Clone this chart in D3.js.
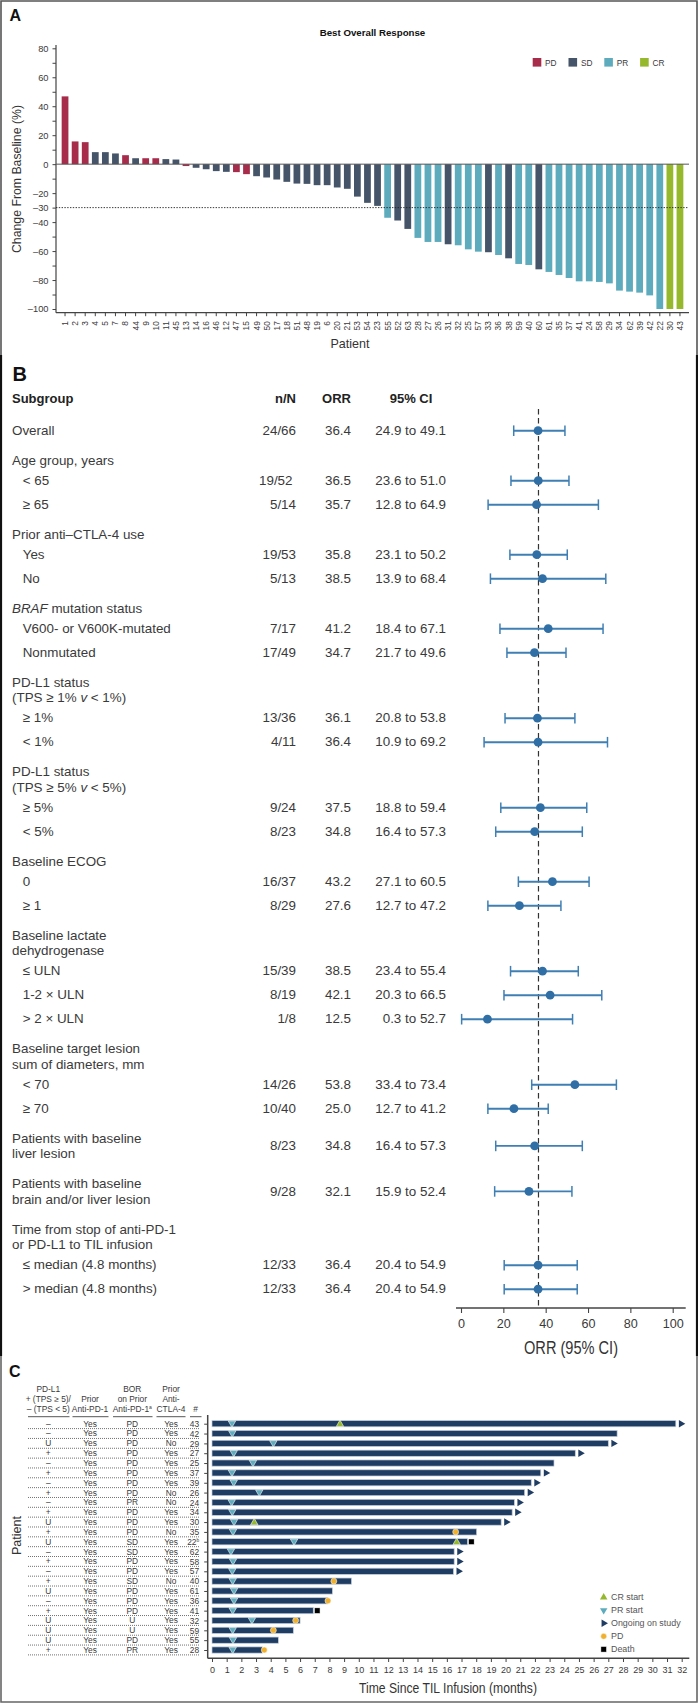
<!DOCTYPE html>
<html>
<head>
<meta charset="utf-8">
<script src="https://cdn.jsdelivr.net/npm/d3@7"></script>
<style>
  html, body { margin: 0; padding: 0; background: #fff; }
  svg { display: block; }
  text { font-family: "Liberation Sans", Arial, sans-serif; fill: #3a3a3a; }
  .axis path, .axis line { stroke: #444; }
</style>
</head>
<body>
<script>
// --- panel A data
const patients = ["1","2","3","4","5","7","8","44","9","10","11","45","13","14","16","46","12","47","15","49","50","17","18","51","48","19","6","20","21","53","54","23","55","52","63","28","27","26","31","32","25","57","33","36","38","59","40","60","61","35","37","41","24","58","29","34","62","39","42","22","30","43"];
const changes = [46.8,15.7,15.2,8.3,8.3,7.4,6.2,4.1,4.1,4.1,3.5,3.2,-1.3,-2.5,-3.5,-4.8,-5.3,-5.5,-6.9,-8.3,-9.2,-10.6,-12.2,-13.4,-13.6,-14.5,-14.5,-16.1,-17,-22.4,-26.7,-28.8,-37,-38.9,-44.7,-50.9,-53.7,-53.7,-55.3,-56,-58.8,-60.4,-60.8,-62.7,-65,-68.9,-69.6,-72.6,-74.4,-76.5,-78.6,-80.9,-80.9,-81.3,-82.3,-87.3,-88,-88.7,-90.6,-100,-100,-100];
const responses = ["PD","PD","PD","SD","SD","SD","PD","SD","PD","PD","SD","SD","PD","SD","SD","SD","SD","PD","PD","SD","SD","SD","SD","SD","SD","SD","SD","SD","SD","SD","SD","SD","PR","SD","SD","PR","PR","PR","SD","PR","PR","PR","SD","PR","SD","PR","PR","SD","PR","PR","PR","PR","PR","PR","PR","PR","PR","PR","PR","PR","CR","CR"];
const responseTypes = ["PD","SD","PR","CR"];
const responseColors = ["#a72b4a","#455468","#5dabbd","#95b82c"];
const yTicksA = [80,70,60,50,40,30,20,10,0,-10,-20,-30,-40,-50,-60,-70,-80,-90,-100];
const yLabelsA = [80,60,40,20,0,-20,-30,-40,-60,-80,-100];

// --- panel B data (_x_ is italic, \n is a second line)
const forestLabels = ["Overall","Age group, years","< 65","≥ 65","Prior anti–CTLA-4 use","Yes","No","_BRAF_ mutation status","V600- or V600K-mutated","Nonmutated","PD-L1 status\n(TPS ≥ 1% _v_ < 1%)","≥ 1%","< 1%","PD-L1 status\n(TPS ≥ 5% _v_ < 5%)","≥ 5%","< 5%","Baseline ECOG","0","≥ 1","Baseline lactate\ndehydrogenase","≤ ULN","1-2 × ULN","> 2 × ULN","Baseline target lesion\nsum of diameters, mm","< 70","≥ 70","Patients with baseline\nliver lesion","Patients with baseline\nbrain and/or liver lesion","Time from stop of anti-PD-1\nor PD-L1 to TIL infusion","≤ median (4.8 months)","> median (4.8 months)"];
const forestIsSub = [0,0,1,1,0,1,1,0,1,1,0,1,1,0,1,1,0,1,1,0,1,1,1,0,1,1,0,0,0,1,1];
const forestNN = ["24/66",null,"19/52","5/14",null,"19/53","5/13",null,"7/17","17/49",null,"13/36","4/11",null,"9/24","8/23",null,"16/37","8/29",null,"15/39","8/19","1/8",null,"14/26","10/40","8/23","9/28",null,"12/33","12/33"];
const forestORR = [36.4,null,36.5,35.7,null,35.8,38.5,null,41.2,34.7,null,36.1,36.4,null,37.5,34.8,null,43.2,27.6,null,38.5,42.1,12.5,null,53.8,25.0,34.8,32.1,null,36.4,36.4];
const forestLow = [24.9,null,23.6,12.8,null,23.1,13.9,null,18.4,21.7,null,20.8,10.9,null,18.8,16.4,null,27.1,12.7,null,23.4,20.3,0.3,null,33.4,12.7,16.4,15.9,null,20.4,20.4];
const forestHigh = [49.1,null,51.0,64.9,null,50.2,68.4,null,67.1,49.6,null,53.8,69.2,null,59.4,57.3,null,60.5,47.2,null,55.4,66.5,52.7,null,73.4,41.2,57.3,52.4,null,54.9,54.9];
const forestTicks = [0,20,40,60,80,100];
const forestRef = 36.6;

// --- panel C data
const swimIds = ["43","42","29","27","25","37","39","26","24","34","30","35","22","62","58","57","40","61","36","41","32","59","55","28"];
const swimPdl1 = ["–","–","U","+","–","+","–","+","–","+","U","+","U","–","+","–","+","U","–","+","U","U","U","+"];
const swimPriorPd1 = ["Yes","Yes","Yes","Yes","Yes","Yes","Yes","Yes","Yes","Yes","Yes","Yes","Yes","Yes","Yes","Yes","Yes","Yes","Yes","Yes","Yes","Yes","Yes","Yes"];
const swimBor = ["PD","PD","PD","PD","PD","PD","PD","PD","PR","PD","PD","PD","SD","SD","PD","PD","SD","PD","PD","PD","U","U","PD","PR"];
const swimCtla = ["Yes","Yes","No","Yes","Yes","Yes","Yes","No","No","Yes","Yes","No","Yes","Yes","Yes","Yes","No","Yes","Yes","Yes","Yes","Yes","Yes","Yes"];
const swimEnd = [31.6,27.6,27.0,24.75,23.3,22.4,21.75,21.3,20.6,20.45,19.7,18.03,17.4,16.5,16.5,16.45,9.5,8.2,7.9,6.9,6.0,5.54,4.52,3.43];
const swimOngoing = [1,0,1,1,0,1,1,1,1,1,1,0,0,1,1,1,0,0,0,0,0,0,0,0];
const prStart = [1.36,1.38,4.18,1.48,2.79,1.36,1.48,3.22,1.34,1.38,1.5,1.43,5.59,1.29,1.43,1.38,1.41,1.5,1.5,1.41,2.72,1.41,1.43,1.41];
const crStart = [8.72,null,null,null,null,null,null,null,null,null,2.88,null,16.67,null,null,null,null,null,null,null,null,null,null,null];
const pdTime = [null,null,null,null,null,null,null,null,null,null,null,16.6,null,null,null,null,8.3,null,7.9,null,5.7,4.18,null,3.56];
const deathTime = [null,null,null,null,null,null,null,null,null,null,null,null,17.67,null,null,null,null,null,null,7.17,null,null,null,null];
const swimHeaders = [["PD-L1","+ (TPS ≥ 5)/","– (TPS < 5)"],["Prior","Anti-PD-1"],["BOR","on Prior","Anti-PD-1"],["Prior","Anti-","CTLA-4"],["#"]];
const swimLegend = ["CR start","PR start","Ongoing on study","PD","Death"];
const monthTicks = d3.range(0, 33);

const svg = d3.select("body").append("svg").attr("width", 698).attr("height", 1703);

// panel frames
const frames = [
  { d: "M1,355V1H697V355", c: "#555", w: 1.6 },
  { d: "M1,355V1356M697,355V1356", c: "#111", w: 2.2 },
  { d: "M1,1356V1702H697V1356", c: "#666", w: 1.6 }
];
svg.selectAll("path.frame").data(frames).enter().append("path")
  .attr("class", "frame").attr("d", d => d.d).attr("fill", "none")
  .attr("stroke", d => d.c).attr("stroke-width", d => d.w);

function panelLetter(t, x, y, size) {
  svg.append("text").attr("x", x).attr("y", y).attr("font-size", size)
    .attr("font-weight", "bold").style("fill", "#111").text(t);
}
panelLetter("A", 9.5, 20.7, 16);
panelLetter("B", 12.5, 381, 20);
panelLetter("C", 9, 1377, 16);

// stretched titles, the original face is narrower than what is installed
function title(x, y, t, size, len, rot) {
  svg.append("text")
    .attr("transform", `translate(${x},${y})` + (rot ? " rotate(-90)" : ""))
    .attr("text-anchor", "middle").attr("font-size", size)
    .attr("textLength", len).attr("lengthAdjust", "spacingAndGlyphs")
    .style("fill", "#333").text(t);
}

// ---------- A: waterfall
const xA = d3.scaleBand().domain(patients).range([60, 685]).paddingInner(0.33).paddingOuter(0.165);
const yA = d3.scaleLinear().domain([-100, 80]).range([309, 48.3]);
const colorA = d3.scaleOrdinal().domain(responseTypes).range(responseColors);

svg.append("g").selectAll("rect").data(patients).enter().append("rect")
  .attr("x", d => xA(d))
  .attr("width", xA.bandwidth())
  .attr("y", (d, i) => Math.min(yA(changes[i]), yA(0)))
  .attr("height", (d, i) => Math.abs(yA(changes[i]) - yA(0)))
  .attr("fill", (d, i) => colorA(responses[i]));

const axisLeftA = d3.axisLeft(yA).tickValues(yTicksA).tickSize(3.5).tickPadding(4)
  .tickFormat(d => yLabelsA.includes(d) ? (d < 0 ? "–" + (-d) : d) : "");
const gyA = svg.append("g").attr("class", "axis").attr("transform", "translate(56,0)").call(axisLeftA);
gyA.select(".domain").attr("d", `M0,45V312.7`).attr("stroke-width", 1.2);
gyA.selectAll("text").attr("font-size", 9.3).style("font-family", "inherit");

const gxA = svg.append("g").attr("class", "axis").attr("transform", "translate(0,312.7)")
  .call(d3.axisBottom(xA).tickSize(3.5).tickSizeOuter(0));
gxA.select(".domain").attr("d", "M56,0H689").attr("stroke-width", 1.2);
gxA.selectAll("text").attr("font-size", 8.4).style("font-family", "inherit")
  .attr("transform", "rotate(-90)").attr("text-anchor", "end")
  .attr("x", -8.5).attr("y", 0).attr("dy", "0.35em");

svg.append("line").attr("x1", 56).attr("x2", 689).attr("y1", yA(0)).attr("y2", yA(0))
  .attr("stroke", "#555").attr("stroke-width", 1);
svg.append("line").attr("x1", 56).attr("x2", 688).attr("y1", yA(-30)).attr("y2", yA(-30))
  .attr("stroke", "#222").attr("stroke-width", 0.9).attr("stroke-dasharray", "1.4,1.4");

svg.append("text").attr("x", 372.5).attr("y", 36).attr("text-anchor", "middle")
  .attr("font-size", 9.7).attr("font-weight", "bold").style("fill", "#111").text("Best Overall Response");

const legA = svg.append("g").selectAll("g").data(responseTypes).enter().append("g")
  .attr("transform", (d, i) => `translate(${532.7 + i * 35.8},58)`);
legA.append("rect").attr("width", 8.6).attr("height", 8.6).attr("fill", d => colorA(d));
legA.append("text").attr("x", 12.4).attr("y", 7.6).attr("font-size", 8.3).text(d => d);

title(21, 179, "Change From Baseline (%)", 13.5, 148, true);
title(350, 347.5, "Patient", 13.5, 39, false);

// ---------- B: forest plot
const xB = d3.scaleLinear().domain([0, 100]).range([461, 672.7]);
const headY = 398.7;
const forestY = [];
let cursor = headY + 1.6;
forestLabels.forEach((lab, i) => {
  const two = lab.includes("\n");
  if (i === 0) cursor += 30;
  else if (forestIsSub[i]) cursor += forestIsSub[i - 1] ? 24 : 20;
  else cursor += 30;
  forestY.push(cursor);
  if (two) cursor += 15.5;
});

function richText(sel, str) {
  str.split("_").forEach((part, k) => {
    if (part) sel.append("tspan").attr("font-style", k % 2 ? "italic" : "normal").text(part);
  });
}

const textB = svg.append("g").attr("font-size", 13.4);
forestLabels.forEach((lab, i) => {
  const lines = lab.split("\n");
  lines.forEach((line, j) => {
    const t = textB.append("text")
      .attr("x", forestIsSub[i] ? 22.7 : 12)
      .attr("y", forestY[i] + j * 15.5)
      .attr("dy", "0.35em");
    richText(t, line);
  });
  if (forestNN[i] !== null) {
    const yRow = forestY[i] + (lines.length - 1) * 7.2;
    const cols = [
      [forestNN[i] === "19/52" ? 292.5 : 296, forestNN[i]],
      [351, forestORR[i].toFixed(1)],
      [446, forestLow[i].toFixed(1) + " to " + forestHigh[i].toFixed(1)]
    ];
    cols.forEach(c => {
      textB.append("text").attr("x", c[0]).attr("y", yRow).attr("dy", "0.35em")
        .attr("text-anchor", "end").text(c[1]);
    });
  }
});

[[12, "start", "Subgroup"], [296, "end", "n/N"], [351, "end", "ORR"], [411, "middle", "95% CI"]].forEach(h => {
  svg.append("text").attr("x", h[0]).attr("y", headY).attr("dy", "0.35em")
    .attr("text-anchor", h[1]).attr("font-size", 13).attr("font-weight", "bold")
    .style("fill", "#222").text(h[2]);
});

const axisB = svg.append("g").attr("class", "axis").attr("transform", "translate(0,1308)")
  .call(d3.axisBottom(xB).tickValues(forestTicks).tickSize(5).tickPadding(6).tickFormat(d3.format("d")));
axisB.select(".domain").attr("d", "M456,0H685.7").attr("stroke-width", 1.6).attr("stroke", "#333");
axisB.selectAll("line").attr("stroke", "#333").attr("stroke-width", 1.1);
axisB.selectAll("text").attr("font-size", 12.6).style("font-family", "inherit");

svg.append("line").attr("x1", xB(forestRef)).attr("x2", xB(forestRef)).attr("y1", 409).attr("y2", 1308)
  .attr("stroke", "#333").attr("stroke-width", 1.2).attr("stroke-dasharray", "5.5,3.5");

const rowsB = forestLabels.map((d, i) => i).filter(i => forestORR[i] !== null);
const rowYB = i => forestY[i] + (forestLabels[i].includes("\n") ? 7.2 : 0) + 0.4;
const blue = "#3f7fb3";
const ci = svg.append("g").selectAll("g").data(rowsB).enter().append("g");
ci.append("line").attr("x1", i => xB(forestLow[i])).attr("x2", i => xB(forestHigh[i]))
  .attr("y1", rowYB).attr("y2", rowYB).attr("stroke", blue).attr("stroke-width", 1.9);
[forestLow, forestHigh].forEach(arr => {
  ci.append("line").attr("x1", i => xB(arr[i])).attr("x2", i => xB(arr[i]))
    .attr("y1", i => rowYB(i) - 5.3).attr("y2", i => rowYB(i) + 5.3)
    .attr("stroke", blue).attr("stroke-width", 1.5);
});
ci.append("circle").attr("cx", i => xB(forestORR[i])).attr("cy", rowYB).attr("r", 4.4).attr("fill", "#2f6fa5");

title(571, 1353.5, "ORR (95% CI)", 18, 94, false);

// ---------- C: swimmer plot
const xC = d3.scaleLinear().domain([0, 32]).range([212, 681.7]);
const yC = d3.scalePoint().domain(swimIds).range([1423.7, 1650]);
const colX = [48.3, 90, 132.3, 171];
const ruleX = [[28, 69.5], [72.5, 108.5], [113, 152.5], [156.5, 185.5], [190, 201.5]];
const headerX = [48.3, 90, 132.3, 171, 195.7];

swimHeaders.forEach((lines, c) => {
  lines.forEach((line, j) => {
    const t = svg.append("text").attr("x", headerX[c]).attr("text-anchor", "middle")
      .attr("y", 1408.7 - (lines.length - 1 - j) * 9.8).attr("dy", "0.35em")
      .attr("font-size", 8.4).text(line);
    if (c === 2 && j === 2) t.append("tspan").attr("dy", -3).attr("font-size", 5).text("a");
  });
});
svg.selectAll("line.rule").data(ruleX).enter().append("line").attr("class", "rule")
  .attr("x1", d => d[0]).attr("x2", d => d[1]).attr("y1", 1416.7).attr("y2", 1416.7)
  .attr("stroke", "#444").attr("stroke-width", 0.9);

// dotted row lines and table columns
svg.append("g").selectAll("line").data(swimIds).enter().append("line")
  .attr("x1", 28).attr("x2", 199.5)
  .attr("y1", d => yC(d) + 4.9).attr("y2", d => yC(d) + 4.9)
  .attr("stroke", "#333").attr("stroke-width", 0.7).attr("stroke-dasharray", "1,1");

[swimPdl1, swimPriorPd1, swimBor, swimCtla].forEach((col, c) => {
  svg.append("g").selectAll("text").data(col).enter().append("text")
    .attr("x", colX[c]).attr("y", (d, i) => yC(swimIds[i])).attr("dy", "0.35em")
    .attr("text-anchor", "middle").attr("font-size", 8.4).text(d => d);
});

const gyC = svg.append("g").attr("class", "axis").attr("transform", "translate(207.7,0)")
  .call(d3.axisLeft(yC).tickSize(3.5).tickPadding(5));
gyC.select(".domain").attr("d", "M0,1415V1658.3").attr("stroke-width", 1.5).attr("stroke", "#222");
gyC.selectAll("text").attr("font-size", 8.4).style("font-family", "inherit")
  .filter(d => d === "22").each(function () {
    d3.select(this).append("tspan").attr("dy", -2.5).attr("font-size", 4.8).text("b");
  });

const gxC = svg.append("g").attr("class", "axis").attr("transform", "translate(0,1658.3)")
  .call(d3.axisBottom(xC).tickValues(monthTicks).tickSize(3.7).tickPadding(5).tickFormat(d3.format("d")));
gxC.select(".domain").attr("d", "M207.7,0H689.3").attr("stroke-width", 1.5).attr("stroke", "#222");
gxC.selectAll("text").attr("font-size", 9).style("font-family", "inherit");

svg.append("g").selectAll("rect").data(swimIds).enter().append("rect")
  .attr("x", xC(0)).attr("y", d => yC(d) - 3.1)
  .attr("width", (d, i) => xC(swimEnd[i]) - xC(0)).attr("height", 6.2)
  .attr("fill", "#1f3d63").attr("stroke", "#c3cddb").attr("stroke-width", 0.7);

const symTri = d3.symbol().type(d3.symbolTriangle).size(24)();
const navy = "#1f3d63", teal = "#5dabbd", green = "#95b82c", gold = "#efb02f";

function drawTri(g, x, y, fill, rot, halo) {
  g.append("path").attr("d", symTri)
    .attr("transform", `translate(${x},${y}) rotate(${rot})`)
    .attr("fill", fill).attr("stroke", halo ? "#fff" : "none").attr("stroke-width", 0.6);
}
function drawPd(g, x, y) {
  g.append("circle").attr("cx", x).attr("cy", y).attr("r", 3)
    .attr("fill", gold).attr("stroke", "#fff").attr("stroke-width", 0.5);
}
function drawDeath(g, x, y) {
  g.append("rect").attr("x", x - 2.8).attr("y", y - 2.8).attr("width", 5.6).attr("height", 5.6)
    .attr("fill", "#000").attr("stroke", "#fff").attr("stroke-width", 0.5);
}

const marks = svg.append("g");
swimIds.forEach((id, i) => {
  const y = yC(id);
  if (swimOngoing[i]) drawTri(marks, xC(swimEnd[i]) + 5.2, y, navy, 90, false);
  if (prStart[i] !== null) drawTri(marks, xC(prStart[i]), y - 0.6, teal, 180, true);
  if (crStart[i] !== null) drawTri(marks, xC(crStart[i]), y + 0.6, green, 0, true);
  if (pdTime[i] !== null) drawPd(marks, xC(pdTime[i]), y);
  if (deathTime[i] !== null) drawDeath(marks, xC(deathTime[i]), y);
});

const legC = svg.append("g");
swimLegend.forEach((lab, i) => {
  const y = 1597.3 + i * 13;
  if (i === 0) drawTri(legC, 603.7, y, green, 0, false);
  if (i === 1) drawTri(legC, 603.7, y, teal, 180, false);
  if (i === 2) drawTri(legC, 603.7, y, navy, 90, false);
  if (i === 3) drawPd(legC, 603.7, y);
  if (i === 4) drawDeath(legC, 603.7, y);
  legC.append("text").attr("x", 611).attr("y", y).attr("dy", "0.35em").attr("font-size", 8.9)
    .style("fill", "#555").text(lab);
});

title(20.7, 1535.5, "Patient", 13.5, 39, true);
title(448, 1693, "Time Since TIL Infusion (months)", 15, 178, false);
</script>
</body>
</html>
